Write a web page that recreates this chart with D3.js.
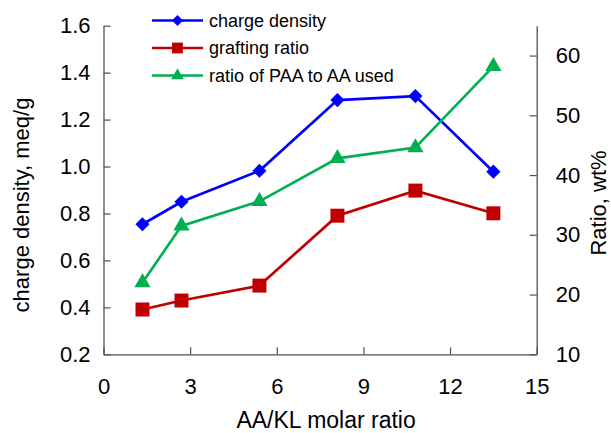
<!DOCTYPE html>
<html>
<head>
<meta charset="utf-8">
<script src="https://cdn.jsdelivr.net/npm/d3@7"></script>
<style>
  html, body { margin: 0; padding: 0; background: #fff; }
  svg { display: block; font-family: "Liberation Sans", Arial, sans-serif; }
</style>
</head>
<body>
<svg id="chart" width="611" height="433"></svg>
<script>
// AA/KL molar ratio for each sample
const molarRatio = [1.35, 2.7, 5.4, 8.1, 10.8, 13.5];
// charge density, meq/g (left axis)
const chargeDensity = [0.754, 0.850, 0.982, 1.283, 1.300, 0.978];
// grafting ratio, wt% (right axis)
const graftingRatio = [17.5, 19.0, 21.5, 33.2, 37.4, 33.6];
// ratio of PAA to AA used, wt% (right axis)
const paaRatio = [22.0, 31.5, 35.6, 42.8, 44.6, 58.2];

const xTicks = [0, 3, 6, 9, 12, 15];
const leftTicks = [0.2, 0.4, 0.6, 0.8, 1.0, 1.2, 1.4, 1.6];
const rightTicks = [10, 20, 30, 40, 50, 60];

// diamond = square turned by 45 degrees
const series = [
  { name: "charge density", values: chargeDensity, axis: "left", color: "#0000ff", symbol: d3.symbolSquare, size: 100, rot: 45 },
  { name: "grafting ratio", values: graftingRatio, axis: "right", color: "#c00000", symbol: d3.symbolSquare, size: 196, rot: 0 },
  { name: "ratio of PAA to AA used", values: paaRatio, axis: "right", color: "#00b050", symbol: d3.symbolTriangle, size: 115, rot: 0 }
];

const svg = d3.select("#chart");
const plot = { left: 103.5, right: 536.7, top: 25.7, bottom: 354.3 };

const x = d3.scaleLinear().domain([0, 15]).range([plot.left, plot.right]);
const yL = d3.scaleLinear().domain([0.2, 1.6]).range([plot.bottom, plot.top]);
const yR = d3.scaleLinear().domain([10, 65]).range([plot.bottom, plot.top]);

// axes with inward ticks
const gx = svg.append("g")
  .attr("transform", `translate(0,${plot.bottom})`)
  .call(d3.axisBottom(x).tickValues(xTicks).tickSizeInner(-7).tickSizeOuter(0).tickPadding(24)
    .tickFormat(d3.format("d")));

const gl = svg.append("g")
  .attr("transform", `translate(${plot.left},0)`)
  .call(d3.axisLeft(yL).tickValues(leftTicks).tickSizeInner(-7).tickSizeOuter(0).tickPadding(13)
    .tickFormat(d3.format(".1f")));

const gr = svg.append("g")
  .attr("transform", `translate(${plot.right},0)`)
  .call(d3.axisRight(yR).tickValues(rightTicks).tickSizeInner(-7).tickSizeOuter(0).tickPadding(19)
    .tickFormat(d3.format("d")));

[gx, gl, gr].forEach(g => {
  g.select(".domain").attr("stroke", "#505050").attr("stroke-width", 1.3);
  g.selectAll(".tick line").attr("stroke", "#505050").attr("stroke-width", 1.2);
  g.selectAll(".tick text").attr("fill", "#000").style("font-size", "22px");
});

// axis titles
svg.append("text")
  .attr("x", (plot.left + plot.right) / 2 + 6)
  .attr("y", 428)
  .attr("text-anchor", "middle")
  .style("font-size", "23px")
  .text("AA/KL molar ratio");

svg.append("text")
  .attr("transform", `translate(29,${(plot.top + plot.bottom) / 2 + 15}) rotate(-90)`)
  .attr("text-anchor", "middle")
  .style("font-size", "22px")
  .text("charge density, meq/g");

svg.append("text")
  .attr("transform", `translate(606,${(plot.top + plot.bottom) / 2 + 13}) rotate(-90)`)
  .attr("text-anchor", "middle")
  .style("font-size", "22px")
  .text("Ratio, wt%");

// series lines and markers
series.forEach(s => {
  const yScale = s.axis === "left" ? yL : yR;
  const line = d3.line().x((d, i) => x(molarRatio[i])).y(d => yScale(d));
  svg.append("path")
    .datum(s.values)
    .attr("d", line)
    .attr("fill", "none")
    .attr("stroke", s.color)
    .attr("stroke-width", 2.7);
  svg.append("g").selectAll("path")
    .data(s.values)
    .join("path")
    .attr("transform", (d, i) => `translate(${x(molarRatio[i])},${yScale(d)}) rotate(${s.rot})`)
    .attr("d", d3.symbol().type(s.symbol).size(s.size))
    .attr("fill", s.color);
});

// legend
const legend = svg.append("g");
series.forEach((s, i) => {
  const ly = 20.5 + i * 27.5;
  legend.append("line")
    .attr("x1", 152).attr("x2", 203).attr("y1", ly).attr("y2", ly)
    .attr("stroke", s.color).attr("stroke-width", 2.7);
  legend.append("path")
    .attr("transform", `translate(177.5,${ly}) rotate(${s.rot})`)
    .attr("d", d3.symbol().type(s.symbol).size(s.size * 0.6))
    .attr("fill", s.color);
  legend.append("text")
    .attr("x", 209).attr("y", ly).attr("dy", "0.35em")
    .style("font-size", "18px")
    .text(s.name);
});
</script>
</body>
</html>
